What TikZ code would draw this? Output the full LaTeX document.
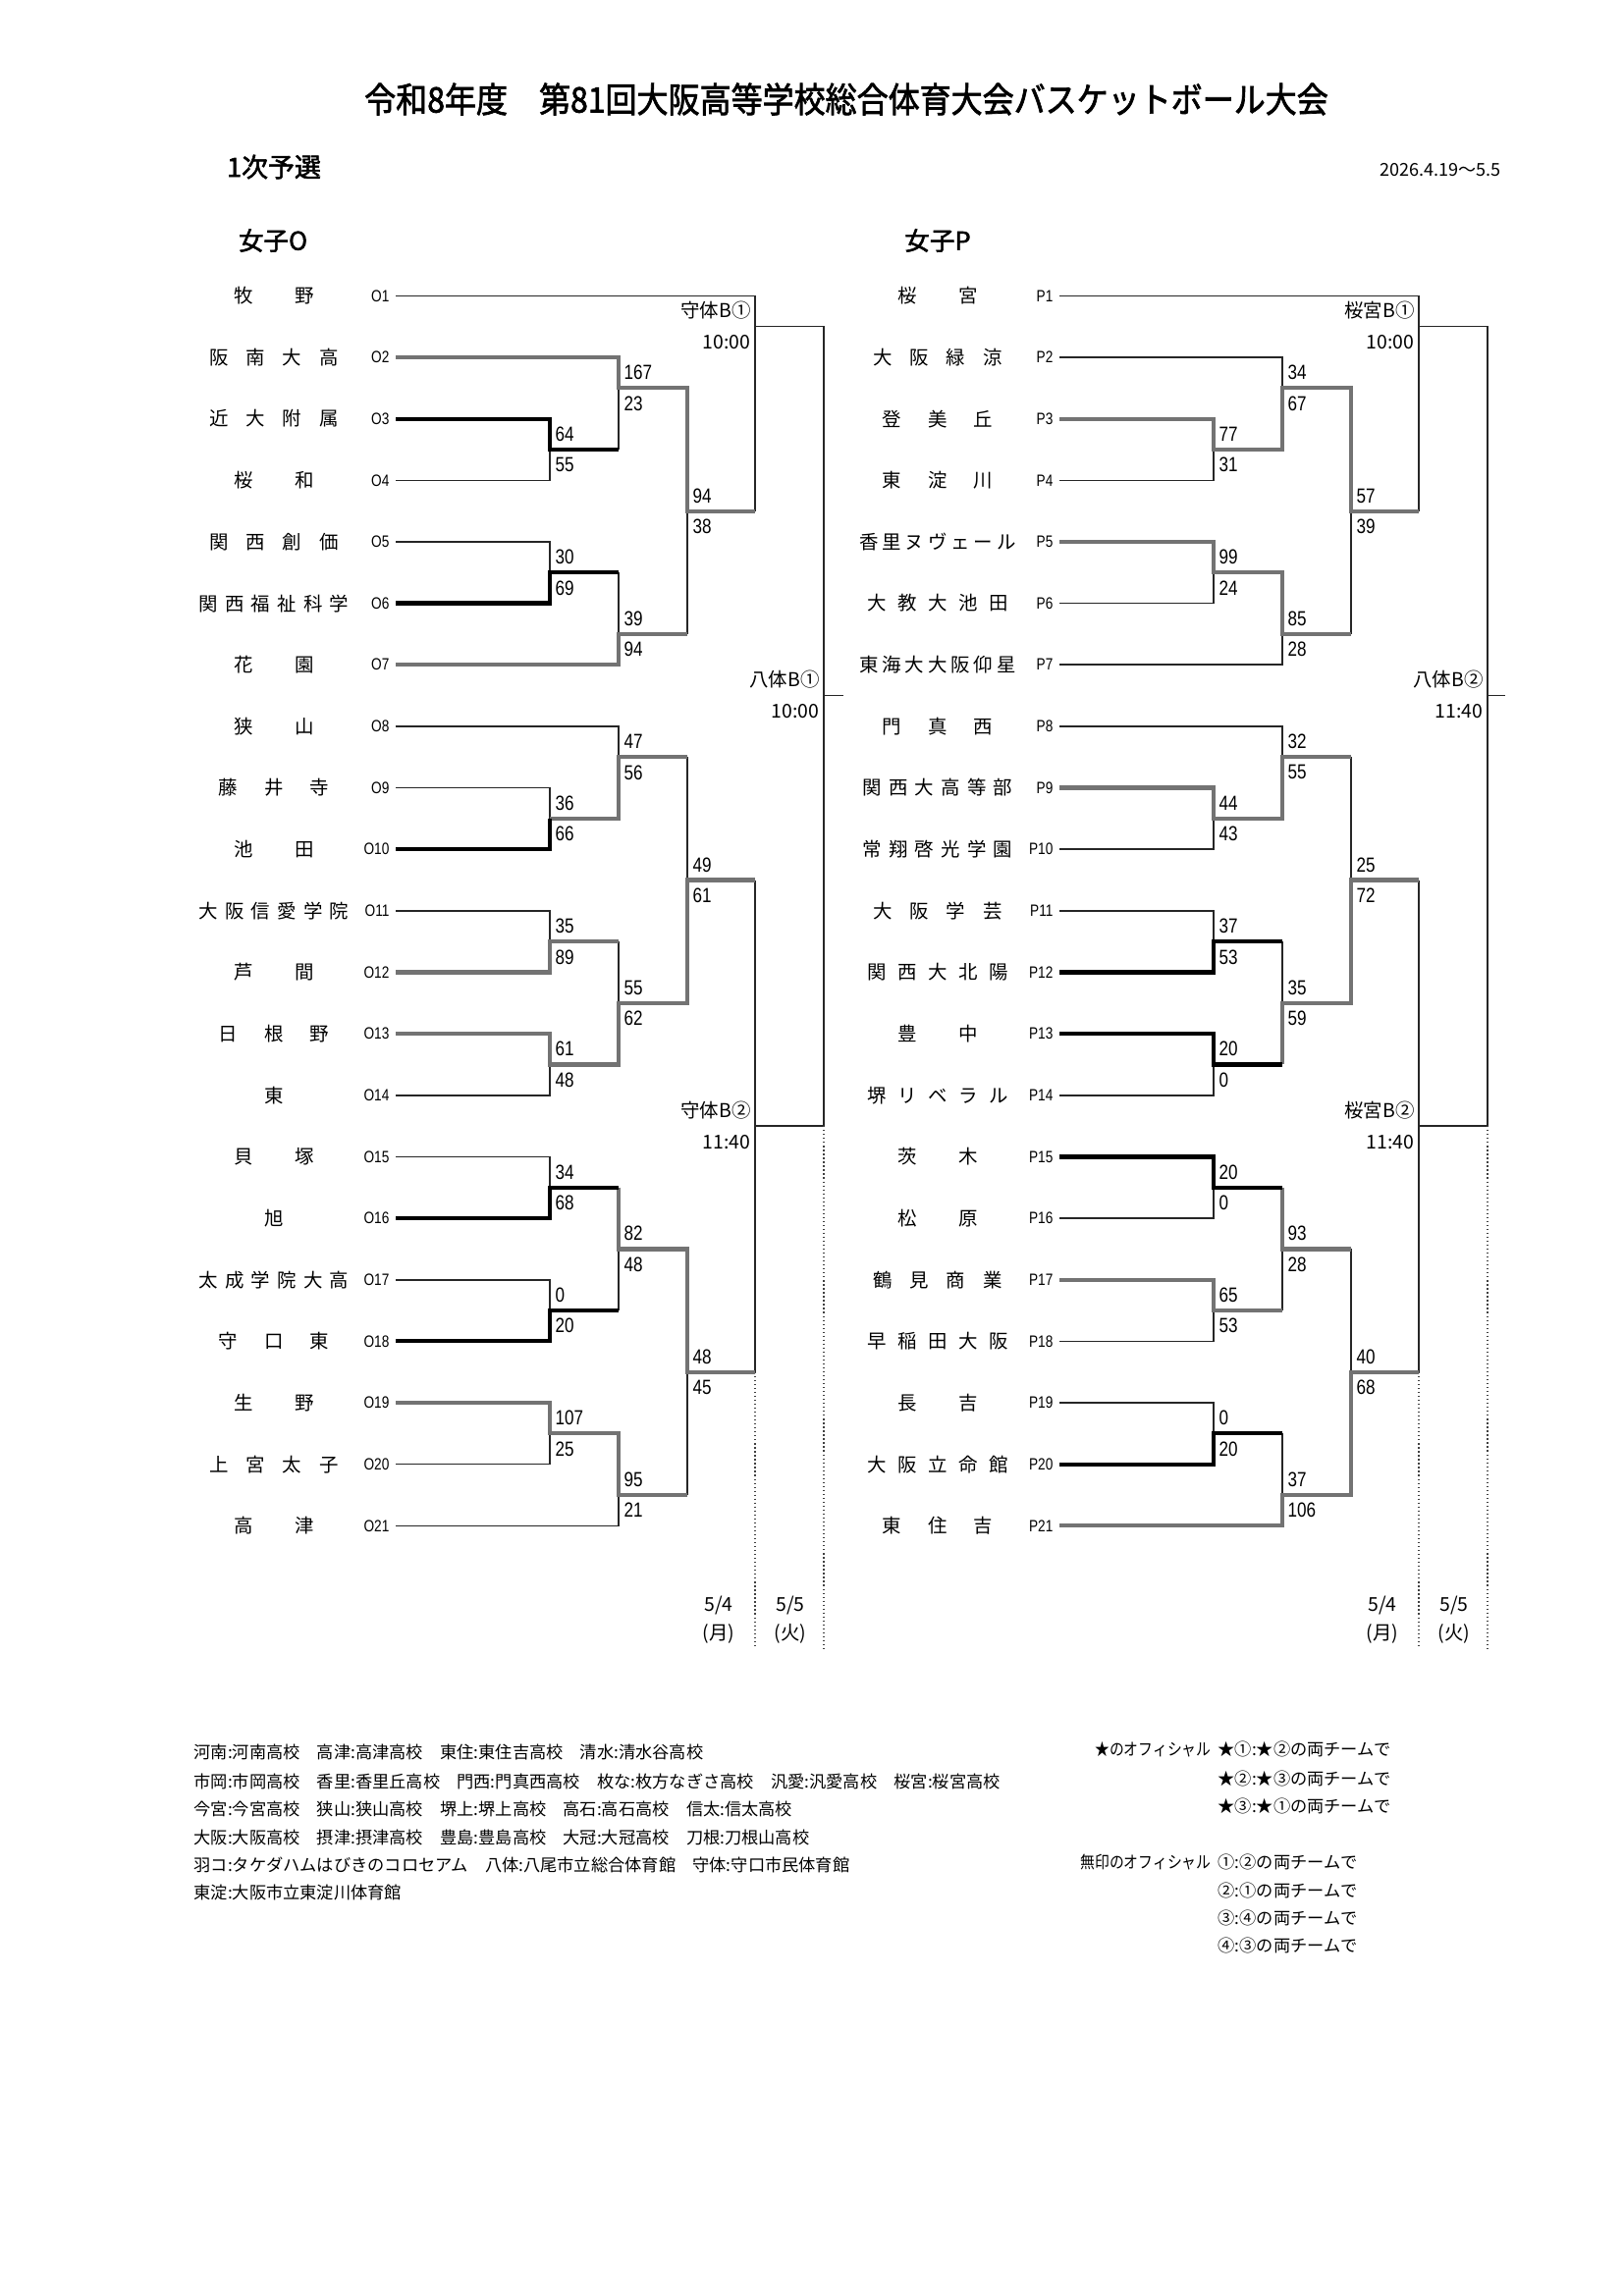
\documentclass[tikz,border=0pt]{standalone}
\usepackage{graphicx}
\usepackage{fontspec}
\setmainfont{Noto Sans CJK JP}[AutoFakeBold=2]
\newfontfamily\narrowf{Liberation Sans}[FakeStretch=0.82]
\newcommand\spreadname[1]{\makebox[60pt]{\hfill\spreadloop#1\relax}}
\def\spreadloop#1{\ifx\relax#1\else#1\hfill\expandafter\spreadloop\fi}
\newcommand\team[4]{%
  \node[nm] (n#1) at (279,#2) {\spreadname{#4}};
  \node[lbl] (l#1) at (397,#2) {#3};
  \coordinate (s#1) at (403,#2);}
\newcommand\scr[5]{%
  \node[sc] (#1t) at ({#2+5},{#3-0.25}) {#4};
  \node[sc] (#1b) at ({#2+5},{#3+0.25}) {#5};}
\newcommand\ven[5]{%
  \node[vn] (#1t) at ({#2-4},{#3-0.26}) {#4};
  \node[vn] (#1b) at ({#2-4},{#3+0.26}) {#5};}
\def\S{403}\def\A{560}\def\B{630}\def\C{700}\def\D{769}\def\F{839}
\begin{document}
\begin{tikzpicture}[x=0.3599pt,y=-0.3599pt,
  thn/.style={line width=0.55pt,black!85},
  tkb/.style={line width=1.5pt,black},
  tkg/.style={line width=1.5pt,black!55},
  dotln/.style={line width=0.45pt,black!75,densely dotted},
  sc/.style={font=\narrowf\fontsize{7.5}{8}\selectfont,inner sep=0pt,anchor=west},
  lbl/.style={font=\narrowf\fontsize{6}{7}\selectfont,inner sep=0pt,anchor=east},
  nm/.style={font=\fontsize{7}{8}\selectfont,inner sep=0pt},
  vn/.style={font=\fontsize{7}{8}\selectfont,inner sep=0pt,anchor=east},
  ft/.style={font=\fontsize{6.2}{7.5}\selectfont,inner sep=0pt,anchor=west},
  dt/.style={font=\fontsize{7}{8}\selectfont,inner sep=0pt}]
\fill[white] (0,0) rectangle (1654,2339);
\useasboundingbox (0,0) rectangle (1654,2339);

\node (title) at (862,101) {\scalebox{0.9}[1]{\fontsize{12.8}{15}\selectfont\bfseries 令和8年度　第81回大阪高等学校総合体育大会バスケットボール大会}};
\node (sub) at (279,170) {\fontsize{9.7}{12}\selectfont\bfseries 1次予選};
\node[anchor=east,inner sep=0pt] (date) at (1529,173) {\fontsize{6.5}{8}\selectfont 2026.4.19〜5.5};
\node (hO) at (278,245) {\fontsize{9.2}{11}\selectfont\bfseries 女子O};
\node (hP) at (955,245) {\fontsize{9.2}{11}\selectfont\bfseries 女子P};

% ================= O bracket =================
\begin{scope}[shift={(0,238.65)},y=-22.548pt]
\team{O1}{1}{O1}{牧野}
\team{O2}{2}{O2}{阪南大高}
\team{O3}{3}{O3}{近大附属}
\team{O4}{4}{O4}{桜和}
\team{O5}{5}{O5}{関西創価}
\team{O6}{6}{O6}{関西福祉科学}
\team{O7}{7}{O7}{花園}
\team{O8}{8}{O8}{狭山}
\team{O9}{9}{O9}{藤井寺}
\team{O10}{10}{O10}{池田}
\team{O11}{11}{O11}{大阪信愛学院}
\team{O12}{12}{O12}{芦間}
\team{O13}{13}{O13}{日根野}
\team{O14}{14}{O14}{東}
\team{O15}{15}{O15}{貝塚}
\team{O16}{16}{O16}{旭}
\team{O17}{17}{O17}{太成学院大高}
\team{O18}{18}{O18}{守口東}
\team{O19}{19}{O19}{生野}
\team{O20}{20}{O20}{上宮太子}
\team{O21}{21}{O21}{高津}
% thin
\draw[thn] (sO1) -- (\D,1) -- (\D,4.5);
\draw[thn] (\D,1.5) -- (\F,1.5) -- (\F,14.5) -- (\D,14.5);
\draw[thn] (\D,10.5) -- (\D,18.5);
\coordinate (stubO) at ({\F+20},7.5);
\draw[thn] (\F,7.5) -- (stubO);
\draw[thn] (sO4) -- (\A,4) -- (\A,3.5);
\draw[thn] (\B,2.5) -- (\B,3.5);
\draw[thn] (sO5) -- (\A,5) -- (\A,5.5);
\draw[thn] (\B,5.5) -- (\B,6.5);
\draw[thn] (\C,4.5) -- (\C,6.5);
\draw[thn] (sO8) -- (\B,8) -- (\B,8.5);
\draw[thn] (\C,8.5) -- (\C,10.5);
\draw[thn] (sO9) -- (\A,9) -- (\A,9.5);
\draw[thn] (sO11) -- (\A,11) -- (\A,11.5);
\draw[thn] (\B,11.5) -- (\B,12.5);
\draw[thn] (sO14) -- (\A,14) -- (\A,13.5);
\draw[thn] (sO15) -- (\A,15) -- (\A,15.5);
\draw[thn] (\B,16.5) -- (\B,17.5);
\draw[thn] (sO17) -- (\A,17) -- (\A,17.5);
\draw[thn] (\C,18.5) -- (\C,20.5);
\draw[thn] (sO20) -- (\A,20) -- (\A,19.5);
\draw[thn] (sO21) -- (\B,21) -- (\B,20.5);
\draw[dotln] (\D,18.5) -- (\D,23);
\draw[dotln] (\F,14.5) -- (\F,23);
% thick gray
\draw[tkg] (sO2) -- (\B,2) -- (\B,2.5) -- (\C,2.5) -- (\C,4.5) -- (\D,4.5);
\draw[tkg] (sO7) -- (\B,7) -- (\B,6.5) -- (\C,6.5);
\draw[tkg] (\A,9.5) -- (\B,9.5) -- (\B,8.5) -- (\C,8.5);
\draw[tkg] (sO12) -- (\A,12) -- (\A,11.5) -- (\B,11.5);
\draw[tkg] (sO13) -- (\A,13) -- (\A,13.5) -- (\B,13.5) -- (\B,12.5) -- (\C,12.5) -- (\C,10.5) -- (\D,10.5);
\draw[tkg] (\B,15.5) -- (\B,16.5) -- (\C,16.5) -- (\C,18.5) -- (\D,18.5);
\draw[tkg] (sO19) -- (\A,19) -- (\A,19.5) -- (\B,19.5) -- (\B,20.5) -- (\C,20.5);
% thick black
\draw[tkb] (sO3) -- (\A,3) -- (\A,3.5) -- (\B,3.5);
\draw[tkb] (sO6) -- (\A,6) -- (\A,5.5) -- (\B,5.5);
\draw[tkb] (sO10) -- (\A,10) -- (\A,9.5);
\draw[tkb] (sO16) -- (\A,16) -- (\A,15.5) -- (\B,15.5);
\draw[tkb] (sO18) -- (\A,18) -- (\A,17.5) -- (\B,17.5);
% scores
\scr{Oa1}{\A}{3.5}{64}{55}
\scr{Oa2}{\A}{5.5}{30}{69}
\scr{Oa3}{\A}{9.5}{36}{66}
\scr{Oa4}{\A}{11.5}{35}{89}
\scr{Oa5}{\A}{13.5}{61}{48}
\scr{Oa6}{\A}{15.5}{34}{68}
\scr{Oa7}{\A}{17.5}{0}{20}
\scr{Oa8}{\A}{19.5}{107}{25}
\scr{Ob1}{\B}{2.5}{167}{23}
\scr{Ob2}{\B}{6.5}{39}{94}
\scr{Ob3}{\B}{8.5}{47}{56}
\scr{Ob4}{\B}{12.5}{55}{62}
\scr{Ob5}{\B}{16.5}{82}{48}
\scr{Ob6}{\B}{20.5}{95}{21}
\scr{Oc1}{\C}{4.5}{94}{38}
\scr{Oc2}{\C}{10.5}{49}{61}
\scr{Oc3}{\C}{18.5}{48}{45}
\ven{Od1}{\D}{1.5}{守体B①}{10:00}
\ven{Od2}{\D}{14.5}{守体B②}{11:40}
\ven{Of1}{\F}{7.5}{八体B①}{10:00}
\end{scope}

% ================= P bracket =================
\begin{scope}[shift={(676,238.65)},y=-22.548pt]
\team{P1}{1}{P1}{桜宮}
\team{P2}{2}{P2}{大阪緑涼}
\team{P3}{3}{P3}{登美丘}
\team{P4}{4}{P4}{東淀川}
\team{P5}{5}{P5}{香里ヌヴェール}
\team{P6}{6}{P6}{大教大池田}
\team{P7}{7}{P7}{東海大大阪仰星}
\team{P8}{8}{P8}{門真西}
\team{P9}{9}{P9}{関西大高等部}
\team{P10}{10}{P10}{常翔啓光学園}
\team{P11}{11}{P11}{大阪学芸}
\team{P12}{12}{P12}{関西大北陽}
\team{P13}{13}{P13}{豊中}
\team{P14}{14}{P14}{堺リベラル}
\team{P15}{15}{P15}{茨木}
\team{P16}{16}{P16}{松原}
\team{P17}{17}{P17}{鶴見商業}
\team{P18}{18}{P18}{早稲田大阪}
\team{P19}{19}{P19}{長吉}
\team{P20}{20}{P20}{大阪立命館}
\team{P21}{21}{P21}{東住吉}
% thin
\draw[thn] (sP1) -- (\D,1) -- (\D,4.5);
\draw[thn] (\D,1.5) -- (\F,1.5) -- (\F,14.5) -- (\D,14.5);
\draw[thn] (\D,10.5) -- (\D,18.5);
\coordinate (stubP) at ({\F+18},7.5);
\draw[thn] (\F,7.5) -- (stubP);
\draw[thn] (sP2) -- (\B,2) -- (\B,2.5);
\draw[thn] (sP4) -- (\A,4) -- (\A,3.5);
\draw[thn] (\C,4.5) -- (\C,6.5);
\draw[thn] (sP6) -- (\A,6) -- (\A,5.5);
\draw[thn] (sP7) -- (\B,7) -- (\B,6.5);
\draw[thn] (sP8) -- (\B,8) -- (\B,8.5);
\draw[thn] (\C,8.5) -- (\C,10.5);
\draw[thn] (sP10) -- (\A,10) -- (\A,9.5);
\draw[thn] (sP11) -- (\A,11) -- (\A,11.5);
\draw[thn] (\B,11.5) -- (\B,12.5);
\draw[thn] (sP14) -- (\A,14) -- (\A,13.5);
\draw[thn] (sP16) -- (\A,16) -- (\A,15.5);
\draw[thn] (\B,16.5) -- (\B,17.5);
\draw[thn] (sP18) -- (\A,18) -- (\A,17.5);
\draw[thn] (sP19) -- (\A,19) -- (\A,19.5);
\draw[thn] (\B,19.5) -- (\B,20.5);
\draw[thn] (\C,16.5) -- (\C,18.5);
\draw[dotln] (\D,18.5) -- (\D,23);
\draw[dotln] (\F,14.5) -- (\F,23);
% thick gray
\draw[tkg] (sP3) -- (\A,3) -- (\A,3.5) -- (\B,3.5) -- (\B,2.5) -- (\C,2.5) -- (\C,4.5) -- (\D,4.5);
\draw[tkg] (sP5) -- (\A,5) -- (\A,5.5) -- (\B,5.5) -- (\B,6.5) -- (\C,6.5);
\draw[tkg] (sP9) -- (\A,9) -- (\A,9.5) -- (\B,9.5) -- (\B,8.5) -- (\C,8.5);
\draw[tkg] (\B,13.5) -- (\B,12.5) -- (\C,12.5) -- (\C,10.5) -- (\D,10.5);
\draw[tkg] (\B,15.5) -- (\B,16.5) -- (\C,16.5);
\draw[tkg] (sP17) -- (\A,17) -- (\A,17.5) -- (\B,17.5);
\draw[tkg] (sP21) -- (\B,21) -- (\B,20.5) -- (\C,20.5) -- (\C,18.5) -- (\D,18.5);
% thick black
\draw[tkb] (sP12) -- (\A,12) -- (\A,11.5) -- (\B,11.5);
\draw[tkb] (sP13) -- (\A,13) -- (\A,13.5) -- (\B,13.5);
\draw[tkb] (sP15) -- (\A,15) -- (\A,15.5) -- (\B,15.5);
\draw[tkb] (sP20) -- (\A,20) -- (\A,19.5) -- (\B,19.5);
% scores
\scr{Pa1}{\A}{3.5}{77}{31}
\scr{Pa2}{\A}{5.5}{99}{24}
\scr{Pa3}{\A}{9.5}{44}{43}
\scr{Pa4}{\A}{11.5}{37}{53}
\scr{Pa5}{\A}{13.5}{20}{0}
\scr{Pa6}{\A}{15.5}{20}{0}
\scr{Pa7}{\A}{17.5}{65}{53}
\scr{Pa8}{\A}{19.5}{0}{20}
\scr{Pb1}{\B}{2.5}{34}{67}
\scr{Pb2}{\B}{6.5}{85}{28}
\scr{Pb3}{\B}{8.5}{32}{55}
\scr{Pb4}{\B}{12.5}{35}{59}
\scr{Pb5}{\B}{16.5}{93}{28}
\scr{Pb6}{\B}{20.5}{37}{106}
\scr{Pc1}{\C}{4.5}{57}{39}
\scr{Pc2}{\C}{10.5}{25}{72}
\scr{Pc3}{\C}{18.5}{40}{68}
\ven{Pd1}{\D}{1.5}{桜宮B①}{10:00}
\ven{Pd2}{\D}{14.5}{桜宮B②}{11:40}
\ven{Pf1}{\F}{7.5}{八体B②}{11:40}
\end{scope}

% dates
\node[dt] (dO1) at (732,1635) {5/4};
\node[dt] (dO2) at (732,1664) {(月)};
\node[dt] (dO3) at (805,1635) {5/5};
\node[dt] (dO4) at (805,1664) {(火)};
\node[dt] (dP1) at (1408,1635) {5/4};
\node[dt] (dP2) at (1408,1664) {(月)};
\node[dt] (dP3) at (1481,1635) {5/5};
\node[dt] (dP4) at (1481,1664) {(火)};

% footer left
\node[ft] (f1) at (197,1785) {河南:河南高校　高津:高津高校　東住:東住吉高校　清水:清水谷高校};
\node[ft] (f2) at (197,1815) {市岡:市岡高校　香里:香里丘高校　門西:門真西高校　枚な:枚方なぎさ高校　汎愛:汎愛高校　桜宮:桜宮高校};
\node[ft] (f3) at (197,1843) {今宮:今宮高校　狭山:狭山高校　堺上:堺上高校　高石:高石高校　信太:信太高校};
\node[ft] (f4) at (197,1872) {大阪:大阪高校　摂津:摂津高校　豊島:豊島高校　大冠:大冠高校　刀根:刀根山高校};
\node[ft] (f5) at (197,1900) {羽コ:タケダハムはびきのコロセアム　八体:八尾市立総合体育館　守体:守口市民体育館};
\node[ft] (f6) at (197,1928) {東淀:大阪市立東淀川体育館};

% footer right
\node[ft,anchor=east] (r1a) at (1234,1782) {\scalebox{0.86}[1]{★のオフィシャル}};
\node[ft] (r1b) at (1240,1782) {★①:★②の両チームで};
\node[ft] (r2b) at (1240,1812) {★②:★③の両チームで};
\node[ft] (r3b) at (1240,1840) {★③:★①の両チームで};
\node[ft,anchor=east] (r4a) at (1234,1897) {\scalebox{0.86}[1]{無印のオフィシャル}};
\node[ft] (r4b) at (1240,1897) {①:②の両チームで};
\node[ft] (r5b) at (1240,1926) {②:①の両チームで};
\node[ft] (r6b) at (1240,1954) {③:④の両チームで};
\node[ft] (r7b) at (1240,1982) {④:③の両チームで};
\end{tikzpicture}
\end{document}
